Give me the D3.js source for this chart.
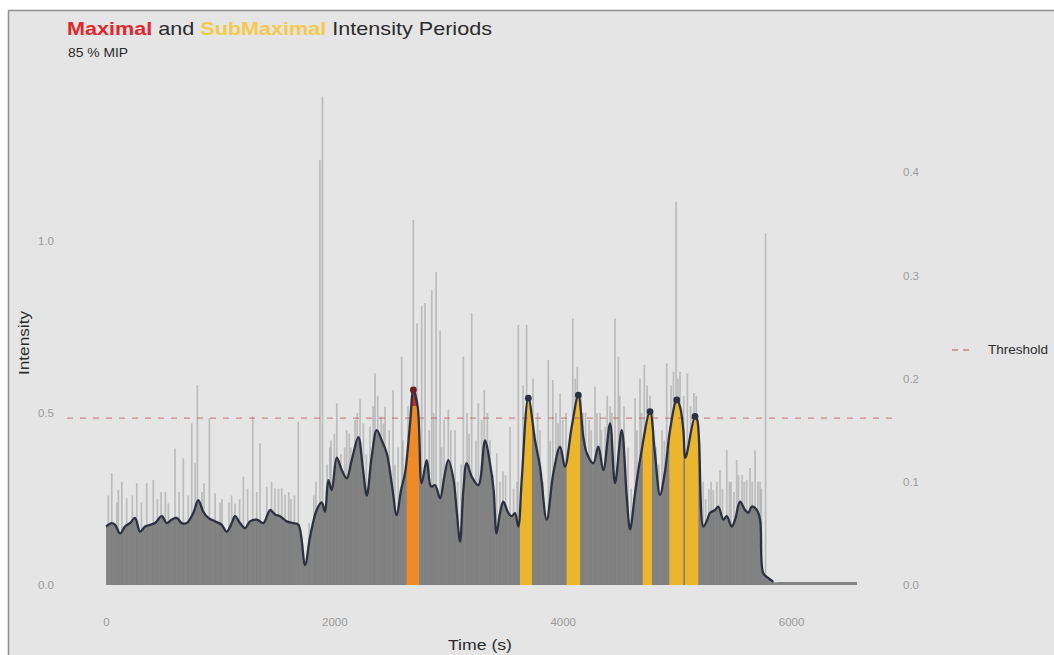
<!DOCTYPE html>
<html>
<head>
<meta charset="utf-8">
<script src="https://cdn.jsdelivr.net/npm/d3@7/dist/d3.min.js"></script>
<style>
  html, body { margin: 0; padding: 0; background: #ffffff; }
  svg { display: block; font-family: "Liberation Sans", Arial, sans-serif; }
</style>
</head>
<body>
<svg id="chart" width="1054" height="655"></svg>
<script>
// ---- rolling-average intensity (s, intensity) ----
const smoothTime = [0, 50, 79, 123, 166, 210, 254, 298, 342, 385, 429, 488, 532, 575, 619, 663, 707, 765, 808, 852,
  896, 955, 1013, 1057, 1101, 1130, 1174, 1218, 1261, 1320, 1378, 1437, 1480, 1524, 1583, 1641, 1685, 1743, 1787, 1845,
  1889, 1918, 1947, 1977, 2021, 2065, 2108, 2152, 2210, 2248, 2284, 2327, 2371, 2415, 2459, 2502, 2546, 2584, 2619, 2663,
  2692, 2730, 2765, 2809, 2847, 2882, 2926, 2963, 2998, 3042, 3071, 3101, 3130, 3159, 3203, 3261, 3320, 3363, 3395, 3420,
  3451, 3480, 3524, 3554, 3582, 3611, 3641, 3699, 3758, 3801, 3860, 3918, 3977, 4020, 4079, 4137, 4181, 4211, 4268, 4312,
  4356, 4415, 4458, 4517, 4561, 4590, 4634, 4677, 4765, 4808, 4852, 4896, 4940, 4999, 5028, 5057, 5075, 5159, 5179, 5232,
  5267, 5291, 5335, 5363, 5407, 5437, 5480, 5510, 5553, 5597, 5626, 5656, 5700, 5729, 5757, 5802, 5845, 5900, 6200, 6540, 6578];
const smoothValue = [0.17, 0.18, 0.175, 0.15, 0.17, 0.18, 0.195, 0.155, 0.17, 0.175, 0.18, 0.20, 0.18, 0.19, 0.195, 0.18, 0.18, 0.21, 0.247, 0.213,
  0.195, 0.185, 0.175, 0.155, 0.18, 0.20, 0.18, 0.165, 0.185, 0.19, 0.18, 0.218, 0.205, 0.20, 0.185, 0.18, 0.175, 0.058, 0.14, 0.218,
  0.24, 0.213, 0.305, 0.276, 0.37, 0.334, 0.31, 0.363, 0.43, 0.344, 0.26, 0.373, 0.45, 0.42, 0.383, 0.296, 0.203, 0.276, 0.325, 0.47,
  0.567, 0.518, 0.296, 0.363, 0.286, 0.29, 0.252, 0.315, 0.363, 0.31, 0.218, 0.126, 0.276, 0.354, 0.315, 0.29, 0.42, 0.354, 0.276, 0.15,
  0.209, 0.242, 0.209, 0.20, 0.209, 0.17, 0.305, 0.543, 0.42, 0.344, 0.19, 0.325, 0.402, 0.344, 0.46, 0.552, 0.43, 0.383, 0.354, 0.402,
  0.334, 0.47, 0.296, 0.45, 0.257, 0.162, 0.267, 0.363, 0.504, 0.383, 0.262, 0.33, 0.45, 0.538, 0.518, 0.45, 0.37, 0.49, 0.48, 0.17,
  0.19, 0.21, 0.218, 0.228, 0.19, 0.20, 0.17, 0.19, 0.242, 0.218, 0.21, 0.228, 0.218, 0.19, 0.034, 0.02, 0.009, 0.009, 0.009, 0.009, 0.009];
const smoothLineEnd = 5845;

// ---- tall raw intensity peaks (s, intensity) ----
const spikeTime = [50, 108, 138, 181, 269, 356, 414, 482, 546, 604, 677, 751, 780, 800, 858, 905, 955, 1016, 1077, 1130,
  1203, 1285, 1349, 1408, 1480, 1539, 1568, 1620, 1684, 1778, 1839, 1874, 1896, 1936, 1971, 2021, 2058, 2108, 2146, 2181,
  2225, 2254, 2312, 2356, 2409, 2444, 2514, 2558, 2590, 2645, 2692, 2724, 2765, 2794, 2853, 2891, 2926, 2961, 2998, 3057,
  3130, 3162, 3203, 3261, 3313, 3363, 3422, 3477, 3539, 3611, 3653, 3684, 3740, 3801, 3874, 3913, 3941, 3977, 4029, 4088,
  4128, 4178, 4231, 4283, 4327, 4371, 4415, 4458, 4487, 4537, 4572, 4634, 4677, 4715, 4765, 4818, 4870, 4911, 4949, 4993,
  5028, 5092, 5150, 5200, 5252, 5319, 5378, 5437, 5474, 5524, 5571, 5612, 5641, 5685, 5729, 5777];
const spikeValue = [0.325, 0.276, 0.30, 0.252, 0.296, 0.296, 0.305, 0.27, 0.237, 0.397, 0.368, 0.47, 0.354, 0.581, 0.296, 0.485, 0.267, 0.25, 0.24, 0.237,
  0.315, 0.49, 0.412, 0.286, 0.281, 0.281, 0.262, 0.25, 0.475, 0.18, 0.30, 1.235, 1.42, 0.35, 0.42, 0.528, 0.38, 0.45, 0.40, 0.48,
  0.54, 0.47, 0.46, 0.615, 0.49, 0.518, 0.567, 0.40, 0.664, 0.52, 1.061, 0.76, 0.81, 0.82, 0.857, 0.91, 0.74, 0.48, 0.51, 0.45,
  0.664, 0.50, 0.79, 0.528, 0.567, 0.42, 0.383, 0.33, 0.46, 0.756, 0.58, 0.756, 0.60, 0.45, 0.654, 0.596, 0.50, 0.557, 0.50, 0.775,
  0.635, 0.50, 0.48, 0.576, 0.50, 0.46, 0.52, 0.775, 0.664, 0.52, 0.40, 0.543, 0.60, 0.64, 0.55, 0.40, 0.45, 0.644, 0.58, 1.114,
  0.62, 0.615, 0.558, 0.42, 0.25, 0.276, 0.334, 0.392, 0.30, 0.363, 0.32, 0.305, 0.34, 0.392, 0.30, 1.022];

// ---- shorter raw peaks just above the rolling average (s, intensity) ----
const shortPeakTime = [20, 95, 230, 310, 450, 520, 640, 720, 840, 1000, 1100, 1170, 1240, 1320, 1450, 1510, 1600, 1650,
  1820, 1960, 2000, 2090, 2130, 2200, 2280, 2340, 2380, 2430, 2480, 2530, 2600, 2830, 2870, 2940, 3020, 3080, 3110, 3180,
  3240, 3290, 3340, 3390, 3450, 3500, 3570, 3600, 3780, 3830, 3890, 3960, 4000, 4110, 4160, 4200, 4250, 4300, 4340, 4390,
  4430, 4500, 4550, 4600, 4650, 4690, 4740, 4790, 4840, 4890, 4970, 5010, 5060, 5120, 5170, 5230, 5280, 5300, 5350, 5400,
  5460, 5500, 5540, 5590, 5660, 5710, 5740];
const shortPeakValue = [0.26, 0.24, 0.26, 0.24, 0.25, 0.27, 0.27, 0.26, 0.27, 0.24, 0.26, 0.25, 0.28, 0.27, 0.30, 0.28, 0.27, 0.26,
  0.26, 0.40, 0.44, 0.40, 0.44, 0.50, 0.38, 0.52, 0.55, 0.47, 0.45, 0.35, 0.42, 0.45, 0.50, 0.40, 0.45, 0.30, 0.35, 0.44,
  0.42, 0.48, 0.50, 0.32, 0.30, 0.32, 0.28, 0.30, 0.50, 0.30, 0.42, 0.47, 0.48, 0.60, 0.55, 0.50, 0.45, 0.50, 0.45, 0.55,
  0.50, 0.55, 0.35, 0.28, 0.45, 0.50, 0.58, 0.50, 0.35, 0.42, 0.62, 0.60, 0.55, 0.52, 0.55, 0.30, 0.28, 0.30, 0.30, 0.28,
  0.30, 0.27, 0.32, 0.30, 0.30, 0.30, 0.28];

// ---- high-intensity periods ----
const periodStart = [2634, 3626, 4034, 4701, 4934, 5071];
const periodEnd   = [2742, 3731, 4152, 4782, 5057, 5188];
const periodKind  = ["Maximal", "SubMaximal", "SubMaximal", "SubMaximal", "SubMaximal", "SubMaximal"];
const maximalLevel = 0.52;

const threshold = 0.485;
const xTicks = [0, 2000, 4000, 6000];
const yTicks = [0, 0.5, 1.0];
const yRightTicks = [0, 0.1, 0.2, 0.3, 0.4];
const rightAxisRatio = 1 / 3;

// ---- layout ----
const svg = d3.select("#chart");
const W = 1054, H = 655;

const x = d3.scaleLinear().domain([-342, 6937]).range([67, 898]);
const y = d3.scaleLinear().domain([0, 1]).range([585, 241]);
const yRight = d3.scaleLinear().domain([0, 0.4]).range([585, y(0.4 / rightAxisRatio)]);

// frame
svg.append("rect").attr("x", 0).attr("y", 0).attr("width", W).attr("height", H).attr("fill", "#ffffff");
svg.append("rect").attr("x", 8.5).attr("y", 10.5).attr("width", W + 20).attr("height", H + 20)
  .attr("fill", "#e5e5e5").attr("stroke", "#8f8f8f").attr("stroke-width", 1.5);

const smooth = smoothTime.map((t, i) => ({ t, v: smoothValue[i] }));
const spikes = spikeTime.map((t, i) => ({ t, v: spikeValue[i] }))
  .concat(shortPeakTime.map((t, i) => ({ t, v: shortPeakValue[i] })));
const periods = periodStart.map((s, i) => ({ s, e: periodEnd[i], kind: periodKind[i] }));

const plot = svg.append("g");

// raw peaks
plot.append("g").selectAll("line").data(spikes).join("line")
  .attr("x1", d => x(d.t)).attr("x2", d => x(d.t))
  .attr("y1", y(0)).attr("y2", d => y(d.v))
  .attr("stroke", "#949494").attr("stroke-opacity", 0.5).attr("stroke-width", 1.7);

// area under rolling average
const curve = d3.curveCatmullRom.alpha(0.5);
const area = d3.area().x(d => x(d.t)).y0(y(0)).y1(d => y(d.v)).curve(curve);
plot.append("path").datum(smooth).attr("d", area).attr("fill", "#7b7b7b").attr("fill-opacity", 0.92);

// highlighted periods
const defs = svg.append("defs");
periods.forEach((p, i) => {
  defs.append("clipPath").attr("id", "period-" + i).append("rect")
    .attr("x", x(p.s)).attr("width", x(p.e) - x(p.s)).attr("y", 0).attr("height", H);
  plot.append("path").datum(smooth).attr("d", area)
    .attr("fill", p.kind === "Maximal" ? "#f08a24" : "#ebb52e")
    .attr("clip-path", `url(#period-${i})`);
  if (p.kind === "Maximal") {
    defs.append("clipPath").attr("id", "period-top-" + i).append("rect")
      .attr("x", x(p.s)).attr("width", x(p.e) - x(p.s)).attr("y", 0).attr("height", y(maximalLevel));
    plot.append("path").datum(smooth).attr("d", area)
      .attr("fill", "#c92a2a").attr("clip-path", `url(#period-top-${i})`);
  }
});

// threshold
plot.append("line").attr("x1", 67).attr("x2", 898).attr("y1", y(threshold)).attr("y2", y(threshold))
  .attr("stroke", "#c0605c").attr("stroke-opacity", 0.7).attr("stroke-width", 1.4).attr("stroke-dasharray", "6,7");

// rolling average line
const line = d3.line().x(d => x(d.t)).y(d => y(d.v)).curve(curve)
  .defined(d => d.t <= smoothLineEnd);
plot.append("path").datum(smooth).attr("d", line)
  .attr("fill", "none").attr("stroke", "#2c3140").attr("stroke-width", 2.3).attr("stroke-linejoin", "round");

// period peaks
periods.forEach(p => {
  const inside = smooth.filter(d => d.t >= p.s && d.t <= p.e);
  const peak = inside.reduce((a, b) => (b.v > a.v ? b : a));
  plot.append("circle").attr("cx", x(peak.t)).attr("cy", y(peak.v)).attr("r", 3.4)
    .attr("fill", p.kind === "Maximal" ? "#6e2020" : "#2c3140");
});

// axes (labels only)
const tickColor = "#9b9b9b";
const leftAxis = svg.append("g").attr("transform", "translate(54,0)")
  .call(d3.axisLeft(y).tickValues(yTicks).tickFormat(d3.format(".1f")).tickSize(0).tickPadding(0));
const rightAxis = svg.append("g").attr("transform", "translate(903,0)")
  .call(d3.axisRight(yRight).tickValues(yRightTicks).tickFormat(d3.format(".1f")).tickSize(0).tickPadding(0));
const bottomAxis = svg.append("g").attr("transform", "translate(0,618)")
  .call(d3.axisBottom(x).tickValues(xTicks).tickFormat(d3.format("d")).tickSize(0).tickPadding(0));
[leftAxis, rightAxis, bottomAxis].forEach(g => {
  g.select(".domain").remove();
  g.selectAll("text").attr("fill", tickColor).attr("font-size", 11.5)
    .attr("font-family", "\"Liberation Sans\", Arial, sans-serif");
});

// axis titles
svg.append("text").attr("x", 480).attr("y", 650).attr("text-anchor", "middle")
  .attr("font-size", 15).attr("fill", "#2b2b2b")
  .attr("textLength", 64).attr("lengthAdjust", "spacingAndGlyphs").text("Time (s)");
svg.append("text").attr("transform", "translate(29,343) rotate(-90)").attr("text-anchor", "middle")
  .attr("font-size", 14.5).attr("fill", "#2b2b2b")
  .attr("textLength", 64).attr("lengthAdjust", "spacingAndGlyphs").text("Intensity");

// title and subtitle
const title = svg.append("text").attr("x", 67).attr("y", 35).attr("font-size", 19)
  .attr("textLength", 425).attr("lengthAdjust", "spacingAndGlyphs");
title.append("tspan").attr("fill", "#e3262b").attr("font-weight", "bold").text("Maximal");
title.append("tspan").attr("fill", "#2b2b2b").text(" and ");
title.append("tspan").attr("fill", "#f5c94c").attr("font-weight", "bold").text("SubMaximal");
title.append("tspan").attr("fill", "#2b2b2b").text(" Intensity Periods");
svg.append("text").attr("x", 68).attr("y", 57).attr("font-size", 13).attr("fill", "#2b2b2b")
  .attr("textLength", 60).attr("lengthAdjust", "spacingAndGlyphs").text("85 % MIP");

// legend
svg.append("line").attr("x1", 952).attr("x2", 974).attr("y1", 350).attr("y2", 350)
  .attr("stroke", "#c0605c").attr("stroke-opacity", 0.75).attr("stroke-width", 1.4).attr("stroke-dasharray", "6,5");
svg.append("text").attr("x", 988).attr("y", 354).attr("font-size", 12.5).attr("fill", "#2b2b2b")
  .attr("textLength", 60).attr("lengthAdjust", "spacingAndGlyphs").text("Threshold");
</script>
</body>
</html>
